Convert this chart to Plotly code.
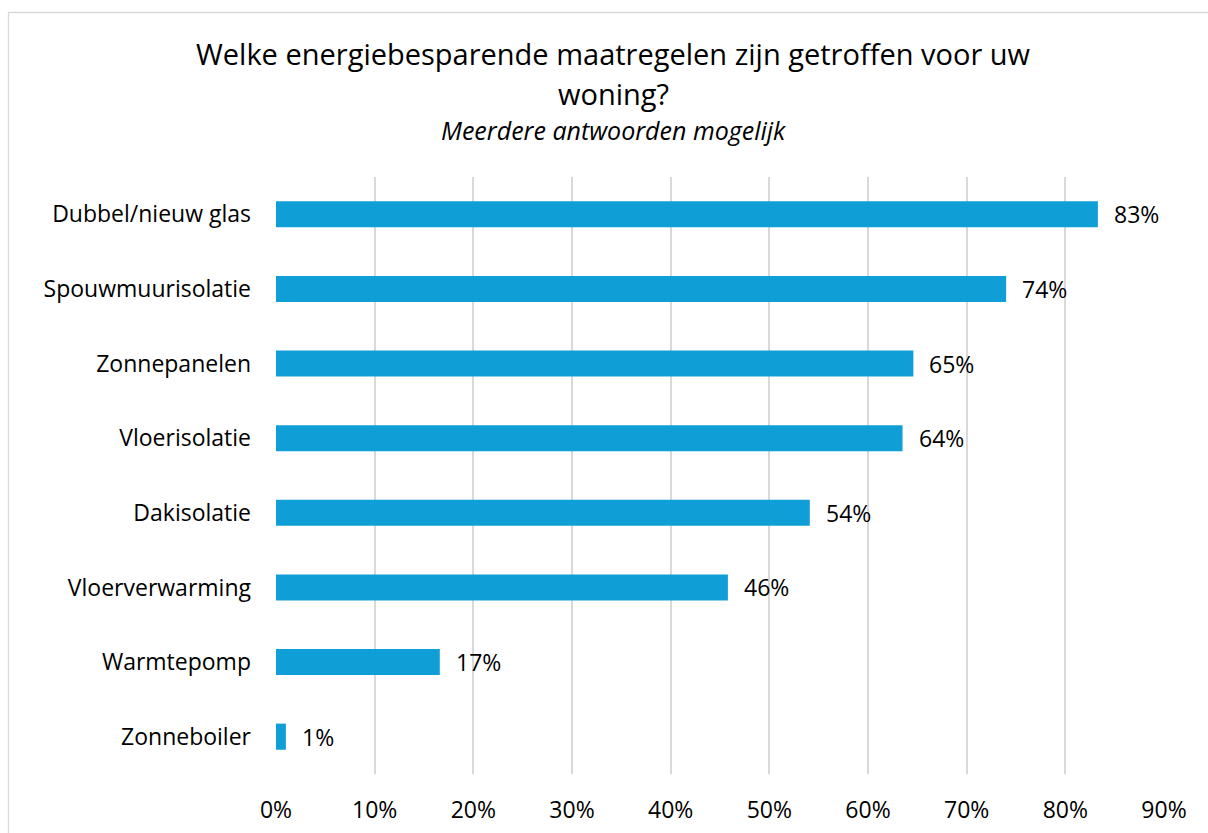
import plotly.graph_objects as go

categories = ["Dubbel/nieuw glas", "Spouwmuurisolatie", "Zonnepanelen", "Vloerisolatie",
              "Dakisolatie", "Vloerverwarming", "Warmtepomp", "Zonneboiler"]
values = [83.3, 74.0, 64.6, 63.5, 54.1, 45.8, 16.6, 1.0]
labels = ["83%", "74%", "65%", "64%", "54%", "46%", "17%", "1%"]
tick_vals = [0, 10, 20, 30, 40, 50, 60, 70, 80, 90]
tick_text = ["0%", "10%", "20%", "30%", "40%", "50%", "60%", "70%", "80%", "90%"]

FONT = "Open Sans"
W, H = 1208, 833
L, R, T, B = 276, 1164, 177, 774
TICK = 23

fig = go.Figure()
fig.add_trace(go.Bar(
    y=categories, x=values, orientation="h",
    marker=dict(color="#0F9ED5", line=dict(width=0)),
    hoverinfo="skip",
))

for c, v, t in zip(categories, values, labels):
    fig.add_annotation(x=v, y=c, text=t, showarrow=False, xanchor="left",
                       xshift=14, font=dict(family=FONT, size=TICK, color="#000000"))

pw, ph = R - L, B - T
def px(x):
    return (x - L) / pw
def py(y):
    return (B - y) / ph

fig.add_shape(type="rect", xref="paper", yref="paper",
              x0=px(8.5), x1=px(1230), y0=py(850), y1=py(12.5),
              line=dict(color="#d9d9d9", width=1.3), fillcolor="rgba(0,0,0,0)", layer="below")

fig.add_annotation(xref="paper", yref="paper", x=px(613), y=py(53), text="Welke energiebesparende maatregelen zijn getroffen voor uw",
                   showarrow=False, xanchor="center", yanchor="middle",
                   font=dict(family=FONT, size=29, color="#000000"))
fig.add_annotation(xref="paper", yref="paper", x=px(613), y=py(93), text="woning?",
                   showarrow=False, xanchor="center", yanchor="middle",
                   font=dict(family=FONT, size=29, color="#000000"))
fig.add_annotation(xref="paper", yref="paper", x=px(613), y=py(130), text="<i>Meerdere antwoorden mogelijk</i>",
                   showarrow=False, xanchor="center", yanchor="middle",
                   font=dict(family=FONT, size=25, color="#000000"))

fig.update_layout(
    width=W, height=H,
    margin=dict(l=L, r=W - R, t=T, b=H - B, autoexpand=False),
    paper_bgcolor="white", plot_bgcolor="white",
    bargap=0.65, showlegend=False,
    font=dict(family=FONT, size=TICK, color="#000000"),
)
fig.update_xaxes(range=[0, 90], tickvals=tick_vals, ticktext=tick_text,
                 showgrid=True, gridcolor="#d9d9d9", gridwidth=2,
                 zeroline=False, showline=False, ticks="", ticklabelstandoff=20,
                 tickfont=dict(family=FONT, size=TICK, color="#000000"))
fig.update_yaxes(autorange="reversed", showgrid=False, zeroline=False, showline=False,
                 ticks="", ticklabelstandoff=24,
                 tickfont=dict(family=FONT, size=TICK, color="#000000"))

fig.write_html("out.html", config={"displayModeBar": False},
               post_script="document.body.style.margin='0';document.body.style.overflow='hidden';document.documentElement.style.overflow='hidden';")
